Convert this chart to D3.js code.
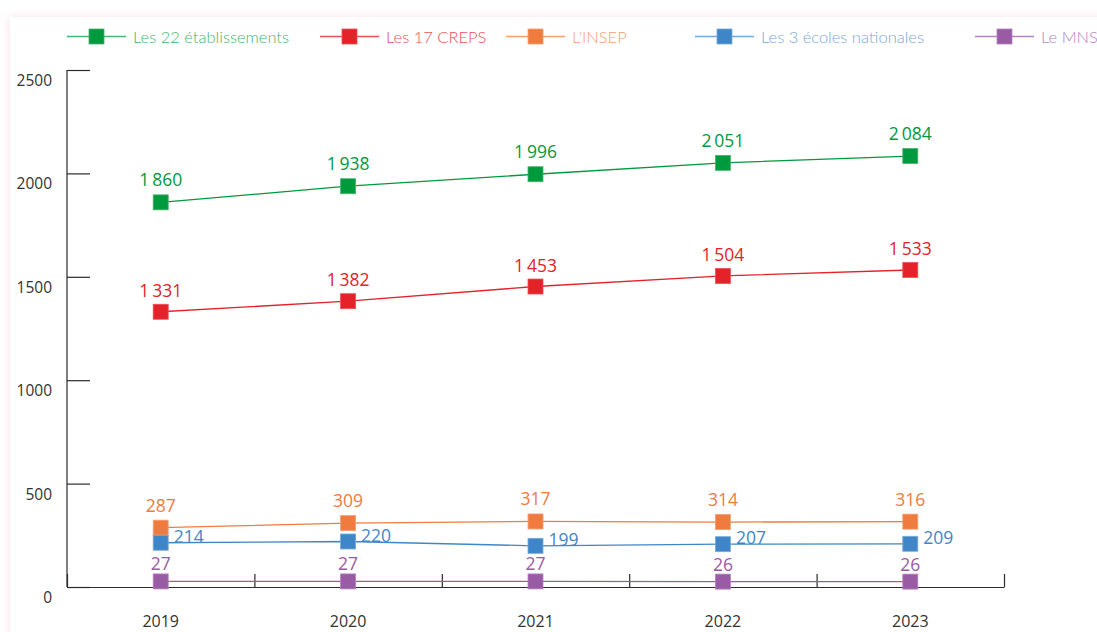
<!DOCTYPE html>
<html lang="fr">
<head>
<meta charset="utf-8">
<title>Effectifs</title>
<script src="https://d3js.org/d3.v7.min.js"></script>
<style>
body { margin: 0; background: #fff; }
</style>
</head>
<body>
<div id="chart"></div>
<script>
// data
var years = ["2019", "2020", "2021", "2022", "2023"];
var seriesNames = ["Les 22 établissements", "Les 17 CREPS", "L'INSEP", "Les 3 écoles nationales", "Le MNS"];
var etablissements = [1860, 1938, 1996, 2051, 2084];
var creps = [1331, 1382, 1453, 1504, 1533];
var insep = [287, 309, 317, 314, 316];
var ecoles = [214, 220, 199, 207, 209];
var mns = [27, 27, 27, 26, 26];
var yTicks = [0, 500, 1000, 1500, 2000, 2500];

var w = 1097, h = 632;

// styles for each series
var series = [
  {name: seriesNames[0], values: etablissements, color: "#009a3e", light: "#45b56f", label: "above", dy: -16},
  {name: seriesNames[1], values: creps, color: "#e42229", light: "#eb5257", label: "above", dy: -15},
  {name: seriesNames[2], values: insep, color: "#f07b3f", light: "#f4a073", label: "above", dy: -16},
  {name: seriesNames[3], values: ecoles, color: "#3f86c8", light: "#78a9da", label: "right", dy: 0},
  {name: seriesNames[4], values: mns, color: "#9a5ba5", light: "#b583bf", label: "above", dy: -11}
];
var legendX = [67, 320, 506, 695, 975];

var fr = d3.formatLocale({decimal: ",", thousands: "\u2009", grouping: [3], currency: ["", " €"]});
var fmt = fr.format(",");

var svg = d3.select("#chart").append("svg")
  .attr("width", w)
  .attr("height", h)
  .style("display", "block");

// pink card shadow
var defs = svg.append("defs");
var f = defs.append("filter").attr("id", "glow")
  .attr("x", -0.1).attr("y", -0.1).attr("width", 1.2).attr("height", 1.2);
f.append("feGaussianBlur").attr("stdDeviation", 5);

svg.append("rect").attr("width", w).attr("height", h).attr("fill", "#fff");
svg.append("rect")
  .attr("x", 10).attr("y", 17).attr("width", w + 40).attr("height", h + 40)
  .attr("fill", "#f2c9d2").attr("opacity", 0.6)
  .attr("filter", "url(#glow)");
svg.append("rect")
  .attr("x", 10).attr("y", 17).attr("width", w + 40).attr("height", h + 40)
  .attr("fill", "#fff");

var x = d3.scaleBand().domain(years).range([67, 1004]);
var xEdge = d3.scaleLinear().domain([0, years.length]).range([67, 1004]);
var y = d3.scaleLinear().domain([0, 2500]).range([587, 70]);

var axisColor = "#2b2b2b";

// y axis
var gy = svg.append("g")
  .attr("transform", "translate(67,0)")
  .call(d3.axisRight(y).tickValues(yTicks).tickSize(23).tickSizeOuter(0).tickFormat(""));
gy.selectAll("line, path").attr("stroke", axisColor).attr("stroke-width", 1.2);
gy.select(".domain").remove();
svg.append("line")
  .attr("x1", 67).attr("x2", 67).attr("y1", y(2500)).attr("y2", y(0))
  .attr("stroke", axisColor).attr("stroke-width", 1.2);

svg.selectAll(".ylab")
  .data(yTicks)
  .enter().append("text")
  .attr("class", "ylab")
  .attr("x", 52)
  .attr("y", function(d) { return y(d) + 16; })
  .attr("text-anchor", "end")
  .attr("font-family", "'Open Sans', sans-serif")
  .attr("font-size", 15.5)
  .attr("fill", "#333")
  .text(function(d) { return d; });

// x axis
var gx = svg.append("g")
  .attr("transform", "translate(0," + y(0) + ")")
  .call(d3.axisTop(xEdge).ticks(years.length).tickSize(13).tickSizeOuter(0).tickFormat(""));
gx.selectAll("line, path").attr("stroke", axisColor).attr("stroke-width", 1.2);

var gxl = svg.append("g")
  .attr("transform", "translate(0," + y(0) + ")")
  .call(d3.axisBottom(x).tickSize(0).tickPadding(29));
gxl.select(".domain").remove();
gxl.selectAll("text")
  .attr("font-family", "'Open Sans', sans-serif")
  .attr("font-size", 16)
  .attr("fill", "#333");

// lines, markers, labels
var line = d3.line()
  .x(function(d, i) { return x(years[i]) + x.bandwidth() / 2; })
  .y(function(d) { return y(d); });

var ms = 15;
series.forEach(function(s) {
  var g = svg.append("g");
  g.append("path")
    .attr("d", line(s.values))
    .attr("fill", "none")
    .attr("stroke", s.color)
    .attr("stroke-width", 1.3);
  g.selectAll("rect")
    .data(s.values)
    .enter().append("rect")
    .attr("x", function(d, i) { return x(years[i]) + x.bandwidth() / 2 - ms / 2; })
    .attr("y", function(d) { return y(d) - ms / 2; })
    .attr("width", ms).attr("height", ms)
    .attr("fill", s.color)
    .attr("stroke", s.light).attr("stroke-width", 0.8);
  g.selectAll("text")
    .data(s.values)
    .enter().append("text")
    .attr("x", function(d, i) {
      var cx = x(years[i]) + x.bandwidth() / 2;
      return s.label == "right" ? cx + 13 : cx;
    })
    .attr("y", function(d) { return y(d) + s.dy; })
    .attr("text-anchor", s.label == "right" ? "start" : "middle")
    .attr("font-family", "'Open Sans', sans-serif")
    .attr("font-size", 17.5)
    .attr("fill", s.color)
    .text(function(d) { return fmt(d); });
});

// legend
var lg = svg.selectAll(".legend")
  .data(series)
  .enter().append("g")
  .attr("class", "legend")
  .attr("transform", function(d, i) { return "translate(" + legendX[i] + ",36.5)"; });
lg.append("line")
  .attr("x1", 0).attr("x2", 59)
  .attr("stroke", function(d) { return d.light; })
  .attr("stroke-width", 1.5);
lg.append("rect")
  .attr("x", 29.5 - ms / 2).attr("y", -ms / 2)
  .attr("width", ms).attr("height", ms)
  .attr("fill", function(d) { return d.color; })
  .attr("stroke", function(d) { return d.light; }).attr("stroke-width", 0.8);
lg.append("text")
  .attr("x", 66)
  .attr("y", 6)
  .attr("font-family", "Lato, sans-serif")
  .attr("font-weight", 300)
  .attr("font-size", 16.5)
  .attr("fill", function(d) { return d.light; })
  .text(function(d) { return d.name; });
</script>
</body>
</html>
